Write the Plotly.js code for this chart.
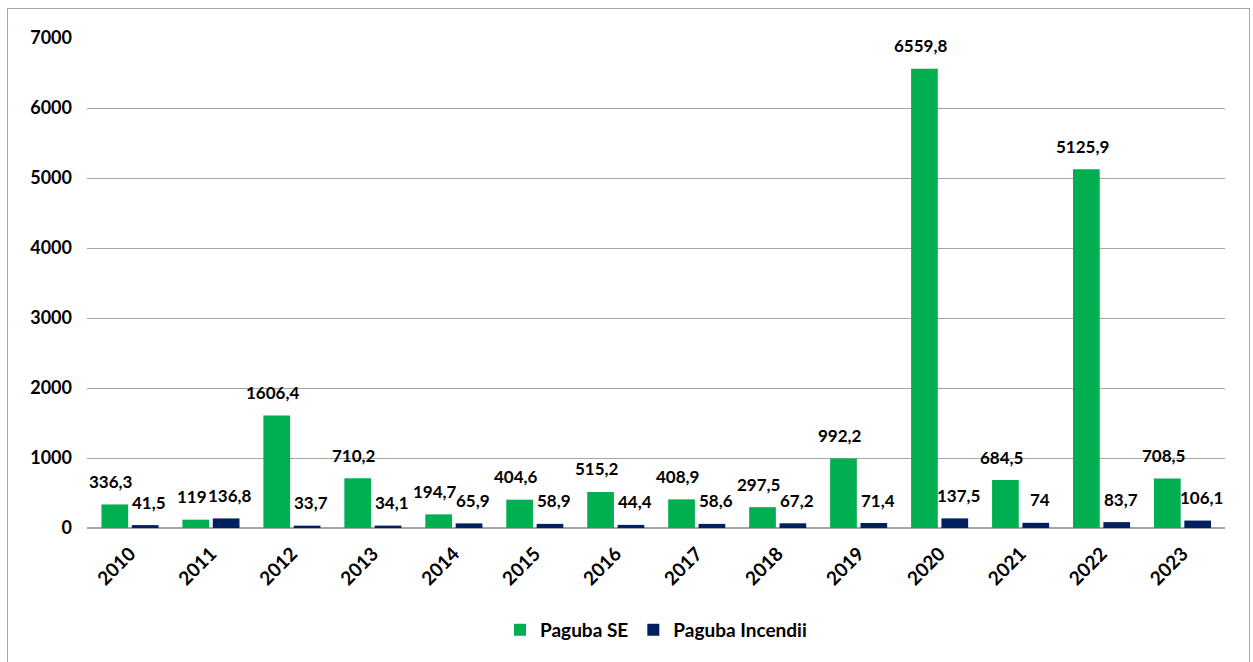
<!DOCTYPE html>
<html>
<head>
<meta charset="utf-8">
<script src="https://cdn.plot.ly/plotly-3.0.1.min.js"></script>
<style>
  html, body { margin: 0; padding: 0; background: #fff; }
  #wrap { position: relative; width: 1253px; height: 662px; overflow: hidden; }
  #frame { position: absolute; left: 7px; top: 8px; width: 1243px; height: 700px; border: 1px solid #a6a6a6; box-sizing: border-box; }
  #chart { position: absolute; left: 0; top: 0; width: 1253px; height: 662px; }
</style>
</head>
<body>
<div id="wrap">
  <div id="frame"></div>
  <div id="chart"></div>
</div>
<script>
const years = ['2010','2011','2012','2013','2014','2015','2016','2017','2018','2019','2020','2021','2022','2023'];
const pagubaSE = [336.3, 119, 1606.4, 710.2, 194.7, 404.6, 515.2, 408.9, 297.5, 992.2, 6559.8, 684.5, 5125.9, 708.5];
const pagubaIncendii = [41.5, 136.8, 33.7, 34.1, 65.9, 58.9, 44.4, 58.6, 67.2, 71.4, 137.5, 74, 83.7, 106.1];
const seriesNames = ['Paguba SE', 'Paguba Incendii'];
const colors = ['#00B050', '#002060'];

const fmt = v => String(v).replace('.', ',');
const font = 'Lato, "Open Sans", sans-serif';

const traces = [pagubaSE, pagubaIncendii].map((vals, i) => ({
  type: 'bar',
  name: seriesNames[i],
  x: years,
  y: vals,
  marker: { color: colors[i] },
  hoverinfo: 'x+y'
}));

const annotations = [];
[pagubaSE, pagubaIncendii].forEach((vals, i) => {
  vals.forEach((v, j) => {
    annotations.push({
      x: j, y: v, xref: 'x', yref: 'y',
      text: '<b>' + fmt(v) + '</b>',
      showarrow: false,
      xanchor: 'center', yanchor: 'middle',
      xshift: i === 0 ? -19 : 19,
      yshift: 23,
      font: { family: font, size: 17, color: '#000' }
    });
  });
});

const layout = {
  width: 1253, height: 662,
  margin: { l: 87, r: 28, t: 38, b: 134 },
  paper_bgcolor: 'rgba(0,0,0,0)',
  plot_bgcolor: 'rgba(0,0,0,0)',
  barmode: 'group',
  bargap: 0.25,
  bargroupgap: 0.12,
  font: { family: font, size: 18, color: '#000' },
  xaxis: {
    type: 'category',
    tickangle: -45,
    tickfont: { family: font, size: 19, color: '#000', weight: 'bold' },
    showgrid: false,
    showline: false,
    ticks: '',
    ticklabelstandoff: 10
  },
  yaxis: {
    range: [0, 7000],
    dtick: 1000,
    tick0: 0,
    showgrid: true,
    gridcolor: '#a6a6a6',
    gridwidth: 1,
    zeroline: true,
    zerolinecolor: '#a6a6a6',
    zerolinewidth: 1.5,
    tickfont: { family: font, size: 18, color: '#000', weight: 'bold' },
    ticks: '',
    ticklabelstandoff: 14,
    automargin: false
  },
  showlegend: true,
  legend: {
    orientation: 'h',
    x: 0.5, xanchor: 'center',
    y: -0.208, yanchor: 'middle',
    font: { family: font, size: 19, color: '#000', weight: 'bold' },
    traceorder: 'normal'
  },
  annotations: annotations
};

Plotly.newPlot('chart', traces, layout, { displayModeBar: false, staticPlot: true });
</script>
</body>
</html>
